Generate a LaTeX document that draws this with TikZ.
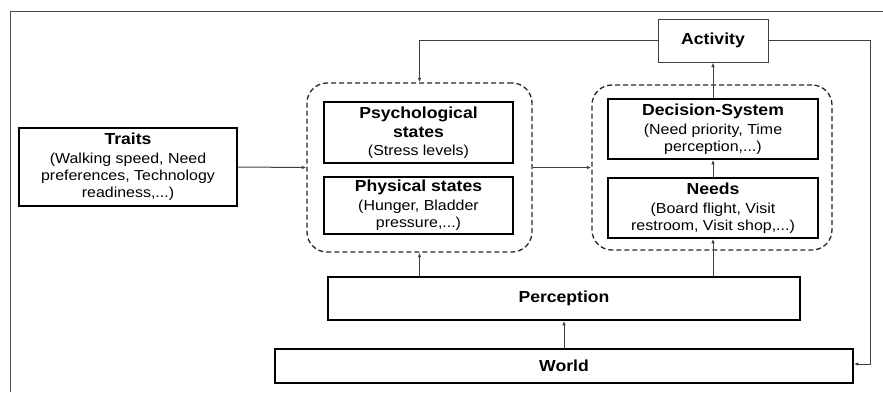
\documentclass[tikz,border=0pt]{standalone}
\usepackage{fontspec}
\setmainfont{Liberation Sans}[FakeStretch=1.1]
\usetikzlibrary{arrows.meta}
\newcommand{\subsz}{\fontsize{14.5}{17}\selectfont}
\newcommand{\tit}{\fontsize{16}{17}\selectfont\bfseries}
\tikzset{
  box/.style={draw=black, line width=1.6pt, align=center, inner sep=0pt, font=\subsz},
  grp/.style={draw=black!85, line width=1.3pt, dash pattern=on 5pt off 3pt, rounded corners=20pt, inner sep=0pt},
  thinbox/.style={draw=black!75, line width=1pt, align=center, inner sep=0pt, font=\subsz},
  conn/.style={draw=black!75, line width=1pt, -{Latex[length=4.5pt,width=3.5pt]}},
  frame/.style={draw=black!70, line width=1pt},
}
\begin{document}
\begin{tikzpicture}[x=1pt,y=-1pt]
\useasboundingbox (0,0) rectangle (883,392);
\draw[frame] (10,392) -- (10,11) -- (883,11);
% groups
\node[grp, minimum width=225pt, minimum height=169pt] (lg) at (419.5,167.5) {};
\node[grp, minimum width=240pt, minimum height=165pt] (rg) at (712,167.5) {};
% boxes
\node[box, minimum width=218pt, minimum height=78pt] (traits) at (128,167)
  {{\tit Traits}\\[2pt](Walking speed, Need\\preferences, Technology\\readiness,...)};
\node[box, minimum width=189pt, minimum height=61pt] (psy) at (418.5,132.5)
  {{\tit Psychological}\\[2pt]{\tit states}\\[1pt](Stress levels)};
\node[box, minimum width=189pt, minimum height=57pt] (phy) at (418.5,205.5)
  {{\tit Physical states}\\[2pt](Hunger, Bladder\\pressure,...)};
\node[box, minimum width=210pt, minimum height=60pt] (dec) at (713,129)
  {{\tit Decision-System}\\[2pt](Need priority, Time\\perception,...)};
\node[box, minimum width=210pt, minimum height=60pt] (needs) at (713,208)
  {{\tit Needs}\\[2pt](Board flight, Visit\\restroom, Visit shop,...)};
\node[thinbox, minimum width=110pt, minimum height=43pt] (act) at (713,40.5) {\tit Activity};
\node[box, minimum width=472pt, minimum height=43pt] (perc) at (564,298.5) {\tit Perception};
\node[box, minimum width=578pt, minimum height=34pt] (world) at (564,366) {\tit World};
\coordinate (rc) at (870,364);
% connectors
\draw[conn] (traits.east) -- (lg.west);
\draw[conn] (lg.east) -- (rg.west);
\draw[conn] (needs.north) -- (dec.south);
\draw[conn] (dec.north) -- (act.south);
\draw[conn] (act.west) -| (lg.north);
\draw[conn] (act.east) -| (rc) -- (world.east |- rc);
\draw[conn] (lg.south |- perc.north) -- (lg.south);
\draw[conn] (needs.south |- perc.north) -- (needs.south);
\draw[conn] (world.north) -- (perc.south);
\end{tikzpicture}
\end{document}
